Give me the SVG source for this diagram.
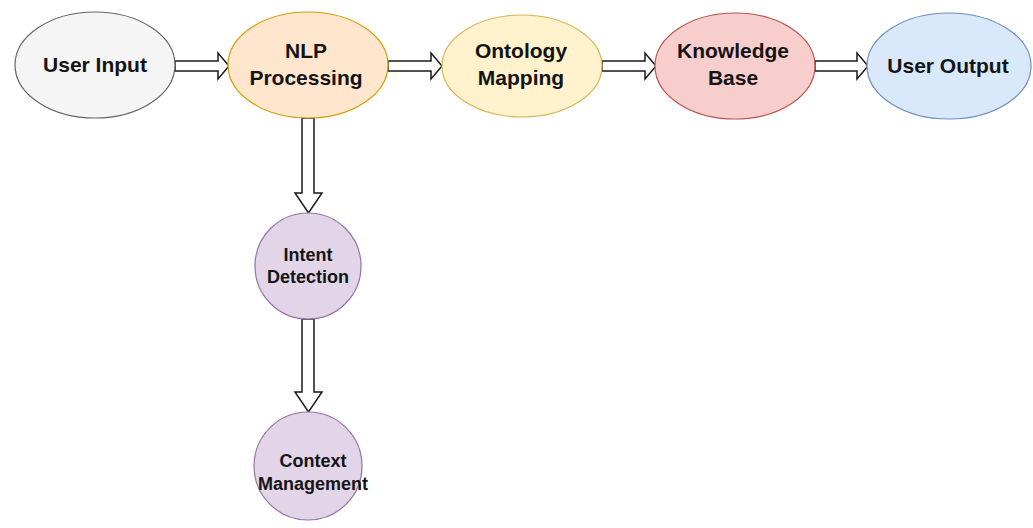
<svg xmlns="http://www.w3.org/2000/svg" width="1033" height="528" viewBox="0 0 1033 528">
<style>
.t{font-family:"Liberation Sans",Arial,sans-serif;font-weight:bold;fill:#141414;text-anchor:middle}
.m{font-size:21px}
.s{font-size:18px}
.arr{fill:#ffffff;stroke:#1a1a1a;stroke-width:1.5;stroke-linejoin:miter}
</style>
<rect width="1033" height="528" fill="#ffffff"/>
<g id="connectors">
<path class="arr" d="M175,61 H218 V53 L229,66 L218,79 V71 H175 Z"/>
<path class="arr" d="M388,61 H431 V53 L442,66 L431,79 V71 H388 Z"/>
<path class="arr" d="M602,61 H645 V53 L656,66 L645,79 V71 H602 Z"/>
<path class="arr" d="M815,61 H857 V53 L868,66 L857,79 V71 H815 Z"/>
<path class="arr" d="M302,118 V193 H295 L308.5,213 L322,193 H314 V118 Z"/>
<path class="arr" d="M302,319 V392 H295 L308.5,412 L322,392 H314 V319 Z"/>
</g>
<g id="user-input">
<ellipse cx="95" cy="65" rx="80" ry="53" fill="#f5f5f5" stroke="#666666" stroke-width="1.2"/>
<text class="t m" x="95" y="72">User Input</text>
</g>
<g id="nlp-processing">
<ellipse cx="308" cy="65" rx="80" ry="53" fill="#ffe6cc" stroke="#d79b00" stroke-width="1.2"/>
<text class="t m" x="306" y="58">NLP</text>
<text class="t m" x="306" y="85">Processing</text>
</g>
<g id="ontology-mapping">
<ellipse cx="522" cy="66" rx="80" ry="51" fill="#fff2cc" stroke="#d6b656" stroke-width="1.2"/>
<text class="t m" x="521" y="58">Ontology</text>
<text class="t m" x="521" y="85">Mapping</text>
</g>
<g id="knowledge-base">
<ellipse cx="735" cy="66" rx="80" ry="53" fill="#f8cecc" stroke="#b85450" stroke-width="1.2"/>
<text class="t m" x="733" y="58">Knowledge</text>
<text class="t m" x="733" y="85">Base</text>
</g>
<g id="user-output">
<ellipse cx="949" cy="66" rx="82" ry="53" fill="#dae8fc" stroke="#6c8ebf" stroke-width="1.2"/>
<text class="t m" x="948" y="73">User Output</text>
</g>
<g id="intent-detection">
<circle cx="308" cy="266" r="53" fill="#e1d5e7" stroke="#9673a6" stroke-width="1.2"/>
<text class="t s" x="308" y="261">Intent</text>
<text class="t s" x="308" y="283">Detection</text>
</g>
<g id="context-management">
<circle cx="308" cy="466" r="54" fill="#e1d5e7" stroke="#9673a6" stroke-width="1.2"/>
<text class="t s" x="313" y="467">Context</text>
<text class="t s" x="313" y="490">Management</text>
</g>
</svg>
